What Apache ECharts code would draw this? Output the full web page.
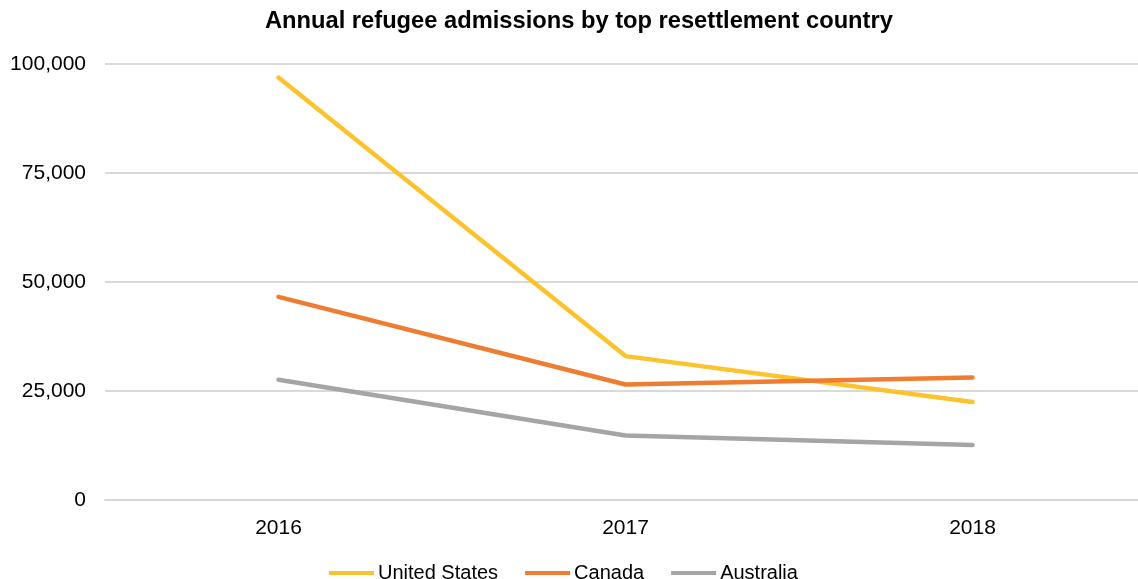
<!DOCTYPE html>
<html>
<head>
<meta charset="utf-8">
<script src="https://cdn.jsdelivr.net/npm/echarts@6/dist/echarts.min.js"></script>
<style>
html,body{margin:0;padding:0;background:#fff;overflow:hidden;}
#chart{width:1160px;height:579px;}
</style>
</head>
<body>
<div id="chart"></div>
<script>
const years = ['2016', '2017', '2018'];
const unitedStates = [96900, 33000, 22500];
const canada = [46600, 26500, 28100];
const australia = [27600, 14800, 12600];
const yTicks = [0, 25000, 50000, 75000, 100000];

const FONT = '"Liberation Sans", Arial, Helvetica, sans-serif';
const chart = echarts.init(document.getElementById('chart'));
function mkSeries(name, data, color) {
  return {
    name: name, type: 'line', data: data, symbol: 'none',
    lineStyle: { color: color, width: 4.5, cap: 'round', join: 'round' },
    itemStyle: { color: color }
  };
}
chart.setOption({
  animation: false,
  textStyle: { fontFamily: FONT },
  title: {
    text: 'Annual refugee admissions by top resettlement country',
    left: 260, top: 4,
    textStyle: { fontFamily: FONT, fontWeight: 'bold', fontSize: 23.7, color: '#000' }
  },
  grid: { left: 105, width: 1041, top: 64, height: 436, containLabel: false },
  legend: {
    top: 563, left: 329, padding: 0,
    itemWidth: 45, itemHeight: 4, itemGap: 27,
    icon: 'rect',
    textStyle: { fontFamily: FONT, fontSize: 20, color: '#000', padding: [0, 0, 0, -1] },
    data: ['United States', 'Canada', 'Australia']
  },
  xAxis: {
    type: 'category', data: years, boundaryGap: true,
    axisLine: { show: true, lineStyle: { color: '#d9d9d9', width: 2 } },
    axisTick: { show: false },
    axisLabel: { color: '#000', fontSize: 21, fontFamily: FONT, margin: 18 }
  },
  yAxis: {
    type: 'value', min: yTicks[0], max: yTicks[yTicks.length - 1], interval: 25000,
    axisLine: { show: false }, axisTick: { show: false },
    splitLine: { lineStyle: { color: '#d9d9d9', width: 2 } },
    axisLabel: {
      color: '#000', fontSize: 21, fontFamily: FONT, margin: 19,
      formatter: v => v.toLocaleString('en-US')
    }
  },
  series: [
    mkSeries('United States', unitedStates, '#fdc32f'),
    mkSeries('Canada', canada, '#ee7d31'),
    mkSeries('Australia', australia, '#a5a5a5')
  ]
});
</script>
</body>
</html>
